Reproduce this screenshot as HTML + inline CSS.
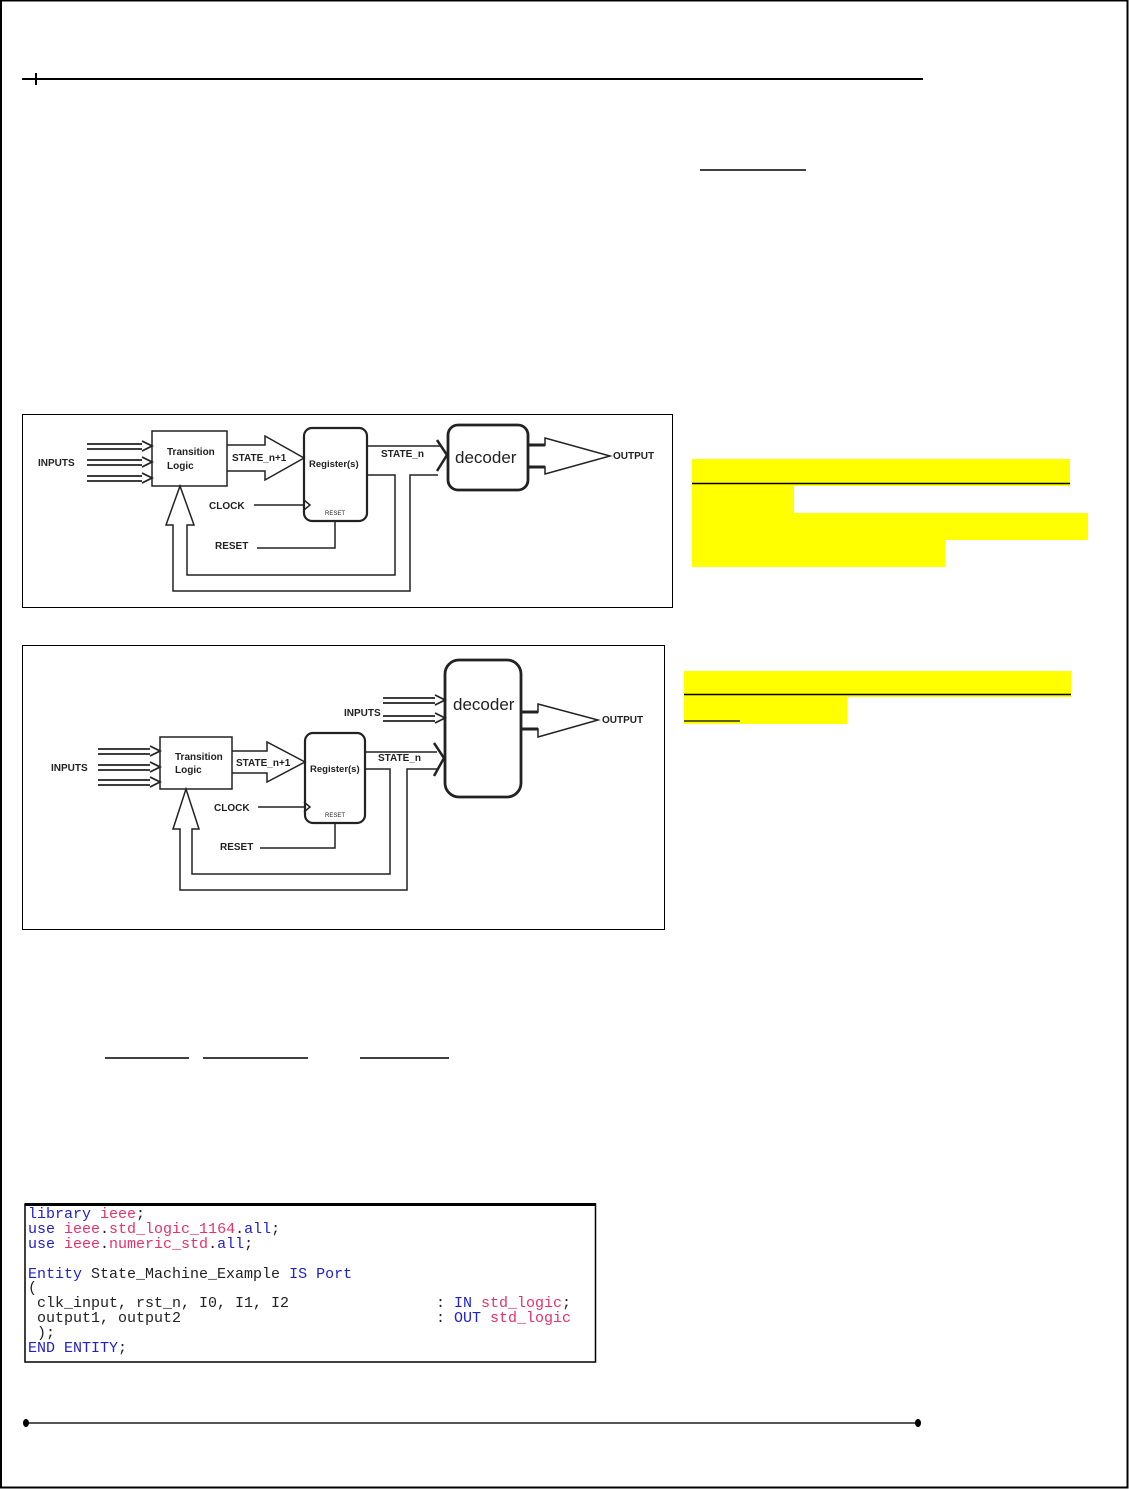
<!DOCTYPE html>
<html><head><meta charset="utf-8"><style>
html,body{margin:0;padding:0;background:#fff}
svg{display:block}
.d{font-family:"Liberation Sans",sans-serif;font-weight:bold;fill:#222}
.c{font-family:"Liberation Mono",monospace;font-size:15px;white-space:pre}
</style></head><body>
<svg width="1129" height="1489" viewBox="0 0 1129 1489" xmlns="http://www.w3.org/2000/svg">
<rect x="1" y="0.5" width="1126.5" height="1487" fill="none" stroke="#000" stroke-width="2"/>
<line x1="22" y1="79" x2="923" y2="79" stroke="#000" stroke-width="2"/>
<line x1="36" y1="73" x2="36" y2="85" stroke="#000" stroke-width="2"/>
<line x1="26" y1="1423" x2="918" y2="1423" stroke="#555" stroke-width="2"/>
<ellipse cx="26" cy="1423" rx="3" ry="4"/><ellipse cx="918" cy="1423" rx="3" ry="4"/>
<line x1="700" y1="170" x2="806" y2="170" stroke="#000" stroke-width="1.5"/>
<line x1="105" y1="1058" x2="189" y2="1058" stroke="#000" stroke-width="1.5"/>
<line x1="203" y1="1058" x2="308" y2="1058" stroke="#000" stroke-width="1.5"/>
<line x1="360" y1="1058" x2="449" y2="1058" stroke="#000" stroke-width="1.5"/>
<g fill="#ffff00">
<rect x="692" y="459" width="378" height="27"/><rect x="692" y="486" width="102" height="27"/>
<rect x="692" y="513" width="396" height="27"/><rect x="692" y="540" width="253" height="27"/>
<rect x="684" y="671" width="387" height="26"/><rect x="684" y="697" width="163" height="27"/>
</g>
<line x1="692" y1="483.5" x2="1070" y2="483.5" stroke="#000" stroke-width="1.5"/>
<line x1="684" y1="694.5" x2="1071" y2="694.5" stroke="#000" stroke-width="1.5"/>
<line x1="684" y1="721" x2="740" y2="721" stroke="#000" stroke-width="1.2"/>

<rect x="22.5" y="414.5" width="650" height="193" fill="none" stroke="#000"/>
<g stroke="#222" fill="none" stroke-width="2">
<path d="M87 444h55M87 449h55M142 441l10 5-10 5M87 460h55M87 465h55M142 457l10 5-10 5M87 476h55M87 481h55M142 473l10 5-10 5" stroke-width="1.8"/>
<rect x="152" y="431" width="75" height="55" stroke-width="1.5"/>
<path d="M227 445h38v-9l39 22-39 22v-9h-38" stroke-width="1.5"/>
<rect x="304" y="428" width="63" height="93" rx="8" stroke-width="2.2"/>
<path d="M254 505h50M304 500l6 5-6 5" stroke-width="1.5"/>
<path d="M257 548h78v-27" stroke-width="1.5"/>
<path d="M367 475h28v100H187v-50h7l-14-39-14 39h7v66h237V475h28" stroke-width="1.5"/>
<path d="M367 446h74" stroke-width="1.5"/>
<path d="M437 440l10 15-10 16" stroke-width="2.5"/>
<rect x="448" y="425" width="80" height="65" rx="10" stroke-width="2.8"/>
<path d="M528 445h17v-7l65 18-65 18v-7h-17" stroke-width="1.5"/>
<path d="M528 445h17M528 467h17" stroke-width="3"/>
</g>
<g class="d" font-size="10">
<text x="38" y="466">INPUTS</text>
<text x="167" y="455">Transition</text><text x="167" y="469">Logic</text>
<text x="232" y="461">STATE_n+1</text><text x="309" y="467" font-size="9.5">Register(s)</text>
<text x="325" y="515" font-size="6" font-weight="normal">RESET</text>
<text x="209" y="509">CLOCK</text><text x="215" y="549">RESET</text>
<text x="381" y="457">STATE_n</text><text x="613" y="459">OUTPUT</text>
</g>
<text x="455" y="463" font-family="Liberation Sans,sans-serif" font-size="17" fill="#222">decoder</text>

<rect x="22.5" y="645.5" width="642" height="284" fill="none" stroke="#000"/>
<g stroke="#222" fill="none" stroke-width="2">
<path d="M98 749h52M98 754h52M150 746l10 5-10 5M98 765h52M98 770h52M150 762l10 5-10 5M98 780h52M98 785h52M150 777l10 5-10 5" stroke-width="1.8"/>
<rect x="160" y="737" width="72" height="52" stroke-width="1.5"/>
<path d="M232 751h35v-9l38 20-38 20v-9h-35" stroke-width="1.5"/>
<rect x="305" y="733" width="60" height="90" rx="8" stroke-width="2.2"/>
<path d="M258 807h46M304 802l6 5-6 5" stroke-width="1.5"/>
<path d="M260 848h75v-25" stroke-width="1.5"/>
<path d="M365 769h25v105H192v-45h7l-13-40-13 40h7v61h227V769h30" stroke-width="1.5"/>
<path d="M365 752h72" stroke-width="1.5"/>
<path d="M434 743l10 15-10 18" stroke-width="2.5"/>
<path d="M383 698h52M383 703h52M435 695l10 5-10 5M383 716h52M383 721h52M435 713l10 5-10 5" stroke-width="1.8"/>
<rect x="445" y="660" width="76" height="137" rx="14" stroke-width="2.8"/>
<path d="M521 712h17v-8l60 16-60 17v-8h-17" stroke-width="1.5"/>
<path d="M521 712h17M521 729h17" stroke-width="3"/>
</g>
<g class="d" font-size="10">
<text x="51" y="771">INPUTS</text><text x="344" y="716">INPUTS</text>
<text x="175" y="760">Transition</text><text x="175" y="773">Logic</text>
<text x="236" y="766">STATE_n+1</text><text x="310" y="772" font-size="9.5">Register(s)</text>
<text x="325" y="817" font-size="6" font-weight="normal">RESET</text>
<text x="214" y="811">CLOCK</text><text x="220" y="850">RESET</text>
<text x="378" y="761">STATE_n</text><text x="602" y="723">OUTPUT</text>
</g>
<text x="453" y="710" font-family="Liberation Sans,sans-serif" font-size="17" fill="#222">decoder</text>

<rect x="25" y="1204" width="570.5" height="158" fill="none" stroke="#000" stroke-width="1.5"/>
<line x1="25" y1="1204.5" x2="596" y2="1204.5" stroke="#000" stroke-width="3"/>
<g class="c">
<text x="28" y="1218"><tspan fill="#2020d0">library </tspan><tspan fill="#e8306a">ieee</tspan><tspan fill="#222">;</tspan></text>
<text x="28" y="1233"><tspan fill="#2020d0">use </tspan><tspan fill="#e8306a">ieee</tspan><tspan fill="#222">.</tspan><tspan fill="#e8306a">std_logic_1164</tspan><tspan fill="#222">.</tspan><tspan fill="#2020d0">all</tspan><tspan fill="#222">;</tspan></text>
<text x="28" y="1248"><tspan fill="#2020d0">use </tspan><tspan fill="#e8306a">ieee</tspan><tspan fill="#222">.</tspan><tspan fill="#e8306a">numeric_std</tspan><tspan fill="#222">.</tspan><tspan fill="#2020d0">all</tspan><tspan fill="#222">;</tspan></text>
<text x="28" y="1278"><tspan fill="#2020d0">Entity </tspan><tspan fill="#222">State_Machine_Example </tspan><tspan fill="#2020d0">IS Port</tspan></text>
<text x="28" y="1292" fill="#222">(</text>
<text x="37" y="1307" fill="#222">clk_input, rst_n, I0, I1, I2</text>
<text x="436" y="1307"><tspan fill="#222">: </tspan><tspan fill="#2020d0">IN </tspan><tspan fill="#e8306a">std_logic</tspan><tspan fill="#222">;</tspan></text>
<text x="37" y="1322" fill="#222">output1, output2</text>
<text x="436" y="1322"><tspan fill="#222">: </tspan><tspan fill="#2020d0">OUT </tspan><tspan fill="#e8306a">std_logic</tspan></text>
<text x="37" y="1337" fill="#222">);</text>
<text x="28" y="1352"><tspan fill="#2020d0">END ENTITY</tspan><tspan fill="#222">;</tspan></text>
</g>
</svg>
</body></html>
